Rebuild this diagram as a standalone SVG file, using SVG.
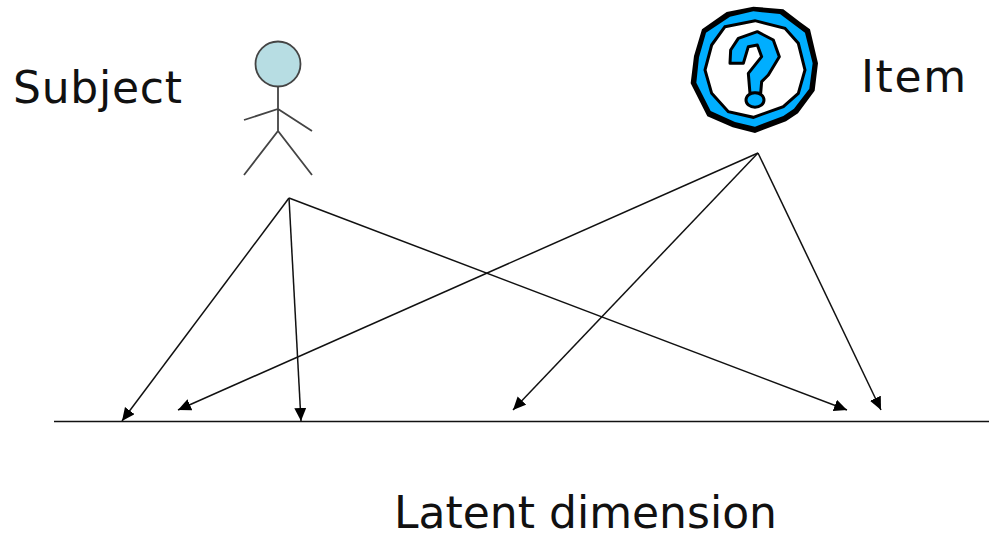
<svg xmlns="http://www.w3.org/2000/svg" width="989" height="533" viewBox="0 0 989 533">
<style>
.lbl{font-family:"DejaVu Sans",Verdana,sans-serif;font-size:44px;fill:#111}
.fig{fill:none;stroke:#444;stroke-width:1.8}
.conn{fill:none;stroke:#111;stroke-width:1.5;marker-end:url(#arr)}
</style>
<defs>
<marker id="arr" markerUnits="userSpaceOnUse" markerWidth="14" markerHeight="13" refX="13" refY="6" orient="auto">
<path d="M0,0L13,6L0,12Z" fill="#000"/>
</marker>
</defs>
<rect width="989" height="533" fill="#fff"/>
<g id="subject">
<text class="lbl" x="13" y="103" textLength="169">Subject</text>
<circle cx="278" cy="64" r="22.500" fill="#b7dde3" stroke="#444" stroke-width="1.800"/>
<path class="fig" d="M278,87V131M244,120L278,109L312,131M244,175L278,131L312,175"/>
</g>
<g id="item">
<text class="lbl" x="861" y="92" textLength="105">Item</text>
<g transform="translate(670,0) scale(.3333)">
<path fill="#000" d="M170,36L250,20L340,28L390,66L420,88L444,190L434,272L384,340L348,364L255,399L188,382L112,349L62,250L72,168L96,88Z"/>
<path fill="#00aeff" d="M180,50L250,34L330,42L378,78L405,98L428,190L418,266L372,326L340,348L255,380L195,366L122,333L79,248L87,172L108,98Z"/>
<path fill="#fff" stroke="#000" stroke-width="9" d="M165,80L255,62L345,85L385,130L405,210L385,280L340,320L250,352L175,335L125,280L105,210L125,135Z"/>
<path fill="#00aeff" stroke="#000" stroke-width="9" stroke-linejoin="round" d="M180,190L182,150L205,115L262,95L310,120L328,170L295,225L275,245L272,280L240,280L235,220L275,170L262,135L235,140L220,190Z"/>
<ellipse cx="255" cy="300" rx="27" ry="22" fill="#00aeff" stroke="#000" stroke-width="9"/>
</g>
</g>
<g id="dimension">
<path d="M54,421.500H989" stroke="#111" stroke-width="1.600" fill="none"/>
<text class="lbl" x="394" y="528" textLength="383">Latent dimension</text>
</g>
<g id="connectors">
<path class="conn" d="M289,198L122,421"/>
<path class="conn" d="M289,198L301,421"/>
<path class="conn" d="M289,198L847,410"/>
<path class="conn" d="M758,153L178,410"/>
<path class="conn" d="M758,153L513,410"/>
<path class="conn" d="M758,153L881,410"/>
</g>
</svg>
